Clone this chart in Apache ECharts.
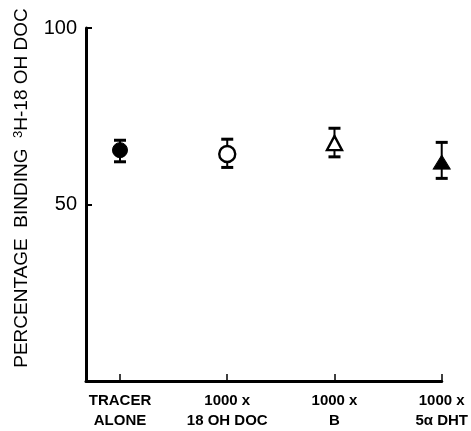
<!DOCTYPE html>
<html>
<head>
<meta charset="utf-8">
<script src="https://cdn.jsdelivr.net/npm/echarts@6/dist/echarts.min.js"></script>
<style>
html,body{margin:0;padding:0;background:#fff;}
#chart{width:471px;height:431px;}
</style>
</head>
<body>
<div id="chart"></div>
<script>
// Data
const categories = ['TRACER\nALONE', '1000 x\n18 OH DOC', '1000 x\nB', '1000 x\n5α DHT'];
const xPositions = [1, 2, 3, 4];
const means = [65.4, 64.3, 67.4, 62.0];
const lows  = [62.1, 60.5, 63.5, 57.4];
const highs = [68.2, 68.5, 71.6, 67.6];
const yTickValues = [50, 100];
const markerSymbols = ['circle', 'circle', 'triangle', 'triangle'];
const markerFilled = [true, false, false, true];

const chart = echarts.init(document.getElementById('chart'), null, {renderer: 'canvas'});

const barData = xPositions.map((x, i) => [x, lows[i], highs[i]]);
const markerSizes = [[15, 15], [16, 16], [15, 14], [17, 14]];
const pointData = xPositions.map((x, i) => ({
  value: [x, means[i]],
  symbol: markerSymbols[i],
  symbolSize: markerSizes[i],
  itemStyle: markerFilled[i]
    ? {color: '#000', borderColor: '#000', borderWidth: 1, opacity: 1}
    : {color: '#fff', borderColor: '#000', borderWidth: 2.4, opacity: 1}
}));

const option = {
  backgroundColor: '#fff',
  animation: false,
  grid: {left: 86, right: 29, top: 28, bottom: 48},
  xAxis: {
    type: 'value',
    min: 0.683,
    max: 4,
    splitLine: {show: false},
    axisLine: {show: true, lineStyle: {color: '#000', width: 3}},
    axisTick: {show: true, inside: true, length: 7, lineStyle: {color: '#000', width: 1.5}, customValues: xPositions},
    axisLabel: {
      customValues: xPositions,
      margin: 10,
      color: '#000',
      fontFamily: 'Liberation Sans, Arial, sans-serif',
      fontWeight: 'bold',
      fontSize: 15,
      lineHeight: 20,
      formatter: function (v) {
        const i = xPositions.indexOf(Math.round(v));
        return i >= 0 ? categories[i] : '';
      }
    }
  },
  yAxis: {
    type: 'value',
    min: 0,
    max: 100,
    splitLine: {show: false},
    axisLine: {show: true, lineStyle: {color: '#000', width: 3}},
    axisTick: {show: true, inside: true, length: 6, lineStyle: {color: '#000', width: 2}, customValues: yTickValues},
    axisLabel: {
      customValues: yTickValues,
      margin: 9,
      color: '#000',
      fontFamily: 'Liberation Sans, Arial, sans-serif',
      fontSize: 20
    }
  },
  graphic: [{
    type: 'text',
    x: 22,
    y: 188,
    rotation: Math.PI / 2,
    style: {
      text: '{n|PERCENTAGE  BINDING  }{s|3}{n|H-18 OH DOC}',
      align: 'center',
      verticalAlign: 'middle',
      fill: '#000',
      rich: {
        n: {fontFamily: 'Liberation Sans, Arial, sans-serif', fontSize: 19, fill: '#000'},
        s: {fontFamily: 'Liberation Sans, Arial, sans-serif', fontSize: 13, fill: '#000', verticalAlign: 'top', padding: [0, 0, 8, 0]}
      }
    }
  }],
  series: [
    {
      type: 'custom',
      data: barData,
      z: 2,
      renderItem: function (params, api) {
        const x = api.value(0);
        const lo = api.coord([x, api.value(1)]);
        const hi = api.coord([x, api.value(2)]);
        const hw = 6;
        return {
          type: 'group',
          children: [
            {type: 'line', shape: {x1: lo[0], y1: lo[1], x2: hi[0], y2: hi[1]}, style: {stroke: '#000', lineWidth: 2}},
            {type: 'line', shape: {x1: lo[0] - hw, y1: lo[1], x2: lo[0] + hw, y2: lo[1]}, style: {stroke: '#000', lineWidth: 3}},
            {type: 'line', shape: {x1: hi[0] - hw, y1: hi[1], x2: hi[0] + hw, y2: hi[1]}, style: {stroke: '#000', lineWidth: 3}}
          ]
        };
      }
    },
    {
      type: 'scatter',
      data: pointData,
      z: 5
    }
  ]
};
chart.setOption(option);
</script>
</body>
</html>
